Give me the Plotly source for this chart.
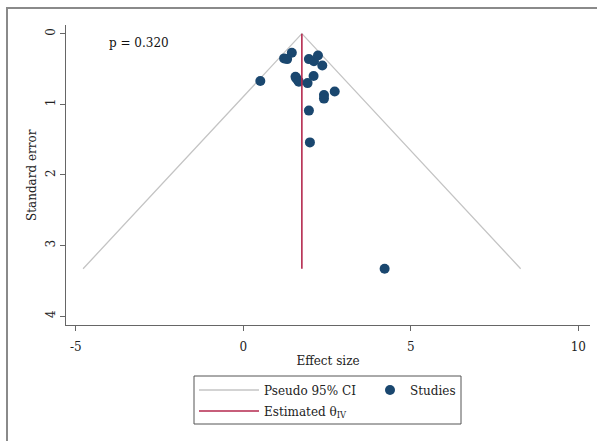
import plotly.graph_objects as go

# Study data (effect size, standard error)
effect = [1.45, 1.22, 1.31, 1.96, 2.11, 2.23, 2.36, 0.51, 1.56, 1.63, 1.58, 1.66,
          1.92, 2.10, 2.73, 2.41, 2.41, 1.96, 1.99, 4.22]
se = [0.27, 0.35, 0.36, 0.36, 0.39, 0.31, 0.45, 0.67, 0.61, 0.66, 0.63, 0.68,
      0.70, 0.60, 0.82, 0.87, 0.92, 1.09, 1.54, 3.33]

# Pseudo 95% CI funnel and estimate
ci_x = [-4.78, 1.75, 8.28]
ci_y = [3.33, 0.0, 3.33]
est_x = [1.75, 1.75]
est_y = [0.0, 3.33]

x_ticks = [-5, 0, 5, 10]
x_ticktext = ["-5", "0", "5", "10"]
y_ticks = [0, 1, 2, 3, 4]
p_text = "p = 0.320"

FONT = "DejaVu Serif"
NAVY = "#1a476f"
RED = "#b5294e"
GREY = "#c4c4c4"

fig = go.Figure()
fig.add_trace(go.Scatter(x=ci_x, y=ci_y, mode="lines", name="Pseudo 95% CI",
                         line=dict(color=GREY, width=1.3), hoverinfo="skip", legend="legend"))
fig.add_trace(go.Scatter(x=effect, y=se, mode="markers", name="Studies",
                         marker=dict(color=NAVY, size=10, line=dict(width=0)), legend="legend3"))
fig.add_trace(go.Scatter(x=est_x, y=est_y, mode="lines", name="Estimated θ<sub>IV</sub>",
                         line=dict(color=RED, width=1.6), legend="legend2"))

fig.add_annotation(x=-4.07, y=0.13, text=p_text, showarrow=False, xanchor="left",
                   yanchor="middle", font=dict(family=FONT, size=12, color="#111"))
# y axis title
fig.add_annotation(xref="paper", yref="paper", x=(32 - 66) / 524, y=0.5,
                   text="Standard error", textangle=-90, showarrow=False,
                   xanchor="center", yanchor="middle",
                   font=dict(family=FONT, size=12, color="#222"))

# outer frame
fig.add_shape(type="rect", xref="paper", yref="paper",
              x0=(7 - 66) / 524, x1=(605 - 66) / 524,
              y0=(325 - 450) / 300, y1=(325 - 8) / 300,
              line=dict(color="#8a8a8a", width=2), fillcolor="rgba(0,0,0,0)", layer="below")
# legend frame
fig.add_shape(type="rect", xref="paper", yref="paper",
              x0=(194 - 66) / 524, x1=(461 - 66) / 524,
              y0=(325 - 424) / 300, y1=(325 - 376) / 300,
              line=dict(color="#555", width=1), fillcolor="rgba(0,0,0,0)")

axis_common = dict(showline=True, linecolor="#666", linewidth=1, ticks="outside",
                   ticklen=5, tickcolor="#666", showgrid=False, zeroline=False,
                   tickfont=dict(family=FONT, size=12, color="#222"), mirror=False,
                   automargin=False)

leg_common = dict(orientation="h", xanchor="left", yanchor="top", borderwidth=0,
                  bgcolor="rgba(0,0,0,0)", traceorder="normal",
                  font=dict(family=FONT, size=12, color="#222"))

fig.update_layout(
    width=597, height=441,
    margin=dict(l=66, r=7, t=25, b=116, autoexpand=False),
    paper_bgcolor="white", plot_bgcolor="white",
    font=dict(family=FONT, size=12, color="#222"),
    xaxis=dict(range=[-5.29, 10.35], tickvals=x_ticks, ticktext=x_ticktext,
               ticklabelstandoff=6,
               title=dict(text="Effect size", standoff=3, font=dict(family=FONT, size=12)),
               **axis_common),
    yaxis=dict(range=[4.127, -0.123], tickvals=y_ticks, tickangle=-90,
               **axis_common),
    showlegend=True,
    legend=dict(x=(194 - 66) / 524, y=(325 - 375.5) / 300, itemwidth=60, **leg_common),
    legend2=dict(x=(194 - 66) / 524, y=(325 - 396.5) / 300, itemwidth=60, **leg_common),
    legend3=dict(x=(370 - 66) / 524, y=(325 - 375.5) / 300, itemwidth=30, **leg_common),
)

fig.write_html("out.html", config={"displayModeBar": False},
               post_script="document.body.style.margin='0';document.body.style.overflow='hidden';")
